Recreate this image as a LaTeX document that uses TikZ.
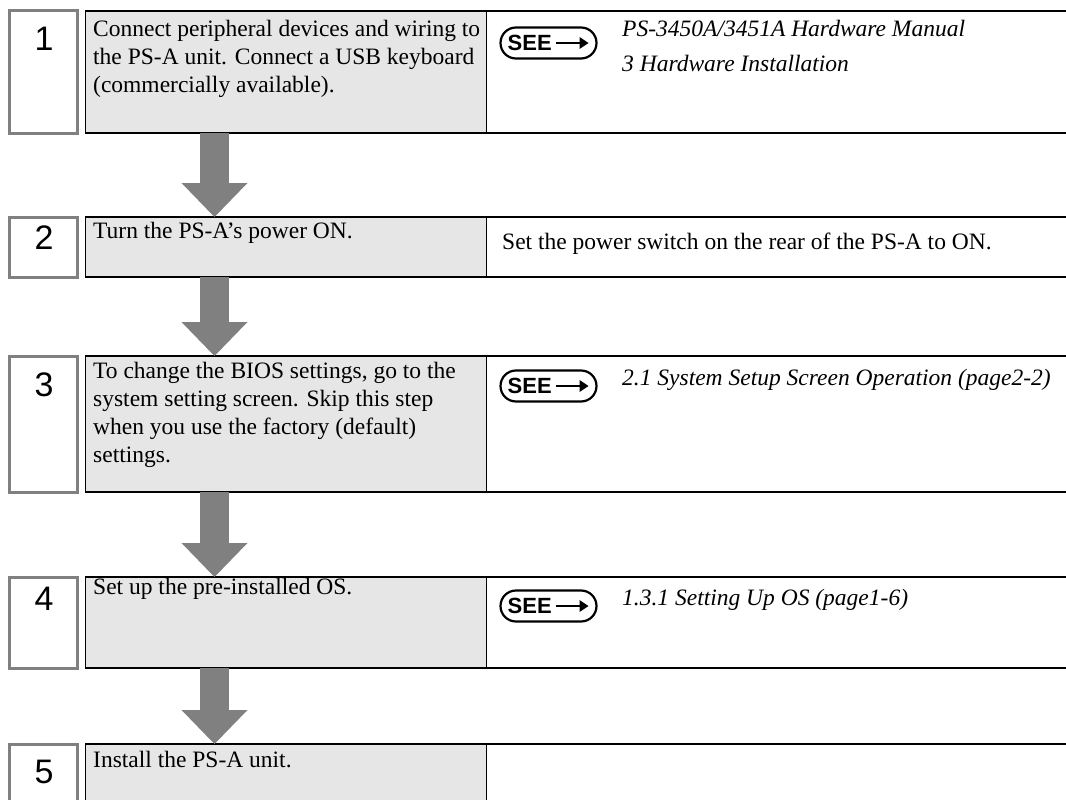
\documentclass[tikz,border=0pt]{standalone}
\usepackage{fontspec}
\setmainfont{Liberation Serif}
\newfontfamily\sansf{Liberation Sans}
\usetikzlibrary{arrows.meta,shapes.misc}
\definecolor{boxgray}{HTML}{E6E6E6}
\definecolor{numgray}{HTML}{808080}
\definecolor{arrgray}{HTML}{808080}
\tikzset{
  numbox/.style={draw=numgray, line width=3pt, anchor=north west, minimum width=68pt, inner sep=0pt, outer sep=0pt},
  stepbox/.style={draw=black, fill=boxgray, line width=1.2pt, anchor=north west, minimum width=401pt, inner sep=0pt, outer sep=0pt},
  refpanel/.style={anchor=north west, minimum width=580pt, inner sep=0pt, outer sep=0pt},
  panelline/.style={draw=black, line width=1.2pt},
  digit/.style={font=\sansf\fontsize{34}{34}\selectfont, inner sep=0pt},
  txt/.style={anchor=base west, inner sep=0pt, font=\fontsize{23.5}{28}\selectfont},
  reftxt/.style={anchor=base west, inner sep=0pt, font=\itshape\fontsize{23.5}{35}\selectfont},
  seebadge/.style={draw=black, line width=2.2pt, rounded rectangle, minimum width=96pt, minimum height=31pt, inner sep=0pt, outer sep=0pt},
  seetxt/.style={anchor=west, inner sep=0pt, font=\sansf\bfseries\fontsize{22}{22}\selectfont},
  seearrow/.style={draw=black, line width=2.6pt, -{Triangle[length=9pt,width=12pt,line width=0pt]}},
  bigarrow/.style={draw=arrgray, line width=29pt, -{Triangle[width=66pt,length=34pt,line width=0pt]}}
}
\begin{document}
\begin{tikzpicture}[x=1pt,y=-1pt]
\useasboundingbox (0,0) rectangle (1066,800);
\clip (0,0) rectangle (1066,800);
\fill[white] (0,0) rectangle (1066,800);

% row 1
\node[numbox, minimum height=122pt] (n1) at (9.5,11) {};
\node[stepbox, minimum height=122pt] (t1) at (85.5,11) {};
\node[refpanel, minimum height=122pt] (r1) at (486.5,11) {};
\node[digit] (d1) at (44,39) {1};
\node[txt] (x1) at (93,37) {\parbox[t]{392pt}{\raggedright Connect peripheral devices and wiring to\\the PS-A unit. Connect a USB keyboard\\(commercially available).}};
\node[seebadge] (s1) at (548.5,43) {};
\node[seetxt] (e1) at ([xshift=7pt]s1.west) {SEE};
\draw[seearrow] ([xshift=4pt]e1.east) -- ([xshift=-8pt]s1.east);
\node[reftxt] (f1) at (622,37) {\parbox[t]{440pt}{\raggedright PS-3450A/3451A Hardware Manual\\3 Hardware Installation}};

% row 2
\node[numbox, minimum height=60pt] (n2) at (9.5,217) {};
\node[stepbox, minimum height=60pt] (t2) at (85.5,217) {};
\node[refpanel, minimum height=60pt] (r2) at (486.5,217) {};
\node[digit] (d2) at (44,238) {2};
\node[txt] (x2) at (93,238) {Turn the PS-A’s power ON.};
\node[txt] (y2) at (502,249) {Set the power switch on the rear of the PS-A to ON.};

% row 3
\node[numbox, minimum height=136pt] (n3) at (9.5,356) {};
\node[stepbox, minimum height=136pt] (t3) at (85.5,356) {};
\node[refpanel, minimum height=136pt] (r3) at (486.5,356) {};
\node[digit] (d3) at (44,385) {3};
\node[txt] (x3) at (93,378) {\parbox[t]{392pt}{\raggedright To change the BIOS settings, go to the\\system setting screen. Skip this step\\when you use the factory (default)\\settings.}};
\node[seebadge] (s3) at (548.5,386) {};
\node[seetxt] (e3) at ([xshift=7pt]s3.west) {SEE};
\draw[seearrow] ([xshift=4pt]e3.east) -- ([xshift=-8pt]s3.east);
\node[reftxt] (f3) at (622,385) {2.1 System Setup Screen Operation (page2-2)};

% row 4
\node[numbox, minimum height=91pt] (n4) at (9.5,577) {};
\node[stepbox, minimum height=91pt] (t4) at (85.5,577) {};
\node[refpanel, minimum height=91pt] (r4) at (486.5,577) {};
\node[digit] (d4) at (44,599) {4};
\node[txt] (x4) at (93,594) {Set up the pre-installed OS.};
\node[seebadge] (s4) at (548.5,606) {};
\node[seetxt] (e4) at ([xshift=7pt]s4.west) {SEE};
\draw[seearrow] ([xshift=4pt]e4.east) -- ([xshift=-8pt]s4.east);
\node[reftxt] (f4) at (622,605) {1.3.1 Setting Up OS (page1-6)};

% row 5
\node[numbox, minimum height=70pt] (n5) at (9.5,744) {};
\node[stepbox, minimum height=70pt] (t5) at (85.5,744) {};
\node[refpanel, minimum height=70pt] (r5) at (486.5,744) {};
\node[digit] (d5) at (44,772) {5};
\node[txt] (x5) at (93,767) {Install the PS-A unit.};

% panel lines
\foreach \r in {r1,r2,r3,r4,r5}{
  \draw[panelline] (\r.north west) -- (\r.north east);
  \draw[panelline] (\r.south west) -- (\r.south east);
}

% arrows
\draw[bigarrow] ([xshift=129pt]t1.south west) -- ([xshift=129pt]t2.north west);
\draw[bigarrow] ([xshift=129pt]t2.south west) -- ([xshift=129pt]t3.north west);
\draw[bigarrow] ([xshift=129pt]t3.south west) -- ([xshift=129pt]t4.north west);
\draw[bigarrow] ([xshift=129pt]t4.south west) -- ([xshift=129pt]t5.north west);
\end{tikzpicture}
\end{document}
